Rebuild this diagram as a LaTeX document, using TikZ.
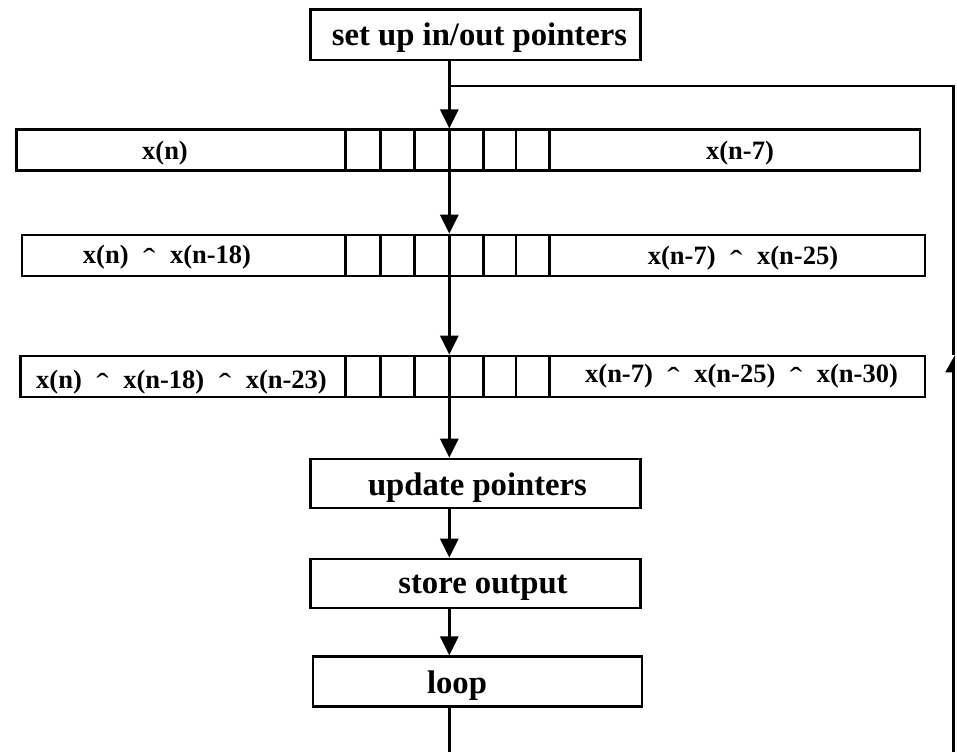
\documentclass[tikz,border=0pt]{standalone}
\usepackage{fontspec}
\usepackage{graphicx}
\setmainfont{Liberation Serif}
\usetikzlibrary{arrows.meta, calc}
\newcommand{\xo}{\hspace{0.55em}\raisebox{-0.28em}{\scalebox{1.4}[1.2]{\mdseries ˆ}}\hspace{0.55em}}

\begin{document}
\begin{tikzpicture}[x=1pt,y=1pt,line width=2.6pt,>={Triangle[length=19pt,width=18pt]},
  box/.style={draw,minimum width=330pt,minimum height=49pt,inner sep=0pt},
  boxtext/.style={font=\fontsize{32.7}{36}\selectfont\bfseries,inner sep=0pt},
  row/.style={draw,minimum width=903pt,minimum height=41pt,inner sep=0pt},
  rowtext/.style={font=\fontsize{26.5}{30}\selectfont\bfseries,inner sep=0pt}]
\useasboundingbox (0,0) rectangle (957,752);
\node[box,minimum height=50.7pt] (setup) at (475.7,717.4) {};
\node[row,minimum width=903.3pt] (buf1) at (468.3,601.7) {};
\node[row] (buf2) at (473.5,496.5) {};
\node[row,minimum width=904.3pt] (buf3) at (472.8,375.5) {};
\node[box] (update) at (475.7,268.5) {};
\node[box] (store) at (475.7,168.5) {};
\node[box,minimum width=329pt,minimum height=50pt] (loop) at (477.3,70.3) {};
\foreach \r in {buf1,buf2,buf3}
  \foreach \c in {345.7,380.3,414.7,449.3,483.7,516,549.3}
    \draw (\c,0 |- \r.north) -- (\c,0 |- \r.south);
\node[boxtext] (setuptxt) at (479.5,714) {set up in/out pointers};
\node[rowtext] (t1l) at (165,599) {x(n)};
\node[rowtext] (t1r) at (740,599.3) {x(n-7)};
\node[rowtext] (t2l) at (167,494) {x(n)\xo x(n-18)};
\node[rowtext] (t2r) at (743,492.5) {x(n-7)\xo x(n-25)};
\node[rowtext] (t3l) at (181.5,369) {x(n)\xo x(n-18)\xo x(n-23)};
\node[rowtext] (t3r) at (741.5,375) {x(n-7)\xo x(n-25)\xo x(n-30)};
\node[boxtext] (updatetxt) at (477.5,264) {update pointers};
\node[boxtext] (storetxt) at (483,164.5) {store output};
\node[boxtext] (looptxt) at (457,66.5) {loop};
\coordinate (join) at (449.3,666);
\coordinate (rtop) at (953.5,666);
\coordinate (rtip) at (953.5,397);
\coordinate (rbot) at (953.5,0);
\coordinate (lbot) at (449.3,0);
\draw[->] (setup.south -| join) -- (join |- buf1.north);
\draw[->] (join |- buf1.south) -- (join |- buf2.north);
\draw[->] (join |- buf2.south) -- (join |- buf3.north);
\draw[->] (join |- buf3.south) -- (join |- update.north);
\draw[->] (join |- update.south) -- (join |- store.north);
\draw[->] (join |- store.south) -- (join |- loop.north);
\draw (join |- loop.south) -- (lbot);
\draw[-{Triangle[left,length=15pt,width=16pt]}] (rbot) -- (rtip);
\draw (rtip) -- (rtop) -- (join);
\end{tikzpicture}
\end{document}
